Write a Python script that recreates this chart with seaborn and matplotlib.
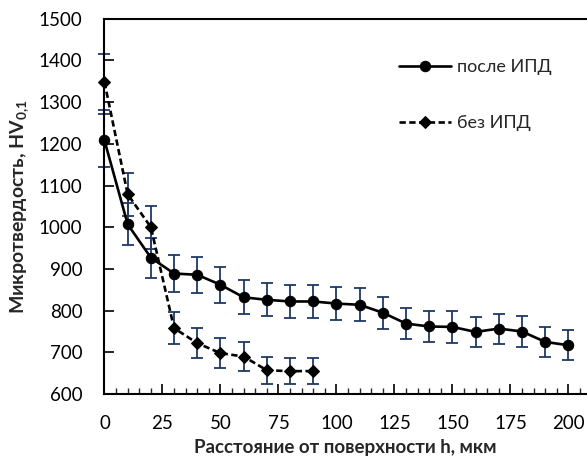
import numpy as np
import matplotlib
matplotlib.use('Agg')
import matplotlib.pyplot as plt
from matplotlib.ticker import MultipleLocator
import seaborn as sns
import pandas as pd

# расстояние от поверхности, мкм
h_after = [0, 10, 20, 30, 40, 50, 60, 70, 80, 90, 100, 110, 120, 130, 140, 150, 160, 170, 180, 190, 200]
hv_after = [1208, 1007, 927, 889, 886, 862, 832, 826, 822, 822, 817, 814, 795, 769, 762, 761, 749, 757, 750, 725, 717]
err_after = [64, 50, 48, 45, 43, 43, 41, 40, 40, 40, 40, 40, 38, 38, 38, 38, 36, 36, 36, 36, 36]

h_before = [0, 10, 20, 30, 40, 50, 60, 70, 80, 90]
hv_before = [1348, 1079, 1000, 758, 722, 698, 690, 657, 655, 655]
err_before = [67, 52, 52, 38, 36, 36, 34, 32, 31, 31]

sns.set_style('white')
plt.rcParams['font.family'] = ['Lato', 'DejaVu Sans']
plt.rcParams['mathtext.fontset'] = 'custom'
plt.rcParams['mathtext.rm'] = 'Lato'
plt.rcParams['mathtext.bf'] = 'Lato:bold'

df_after = pd.DataFrame({'h': h_after, 'hv': hv_after})
df_before = pd.DataFrame({'h': h_before, 'hv': hv_before})

fig, ax = plt.subplots(figsize=(5.87, 4.68), dpi=100)
fig.subplots_adjust(left=0.178, right=1.0, top=0.96, bottom=0.158)

err_color = '#1F3864'
ax.errorbar(h_after, hv_after, yerr=err_after, fmt='none', ecolor=err_color,
            elinewidth=1.3, capsize=4, capthick=1.3, zorder=2, clip_on=False)
ax.errorbar(h_before, hv_before, yerr=err_before, fmt='none', ecolor=err_color,
            elinewidth=1.3, capsize=4, capthick=1.3, zorder=2, clip_on=False)

sns.lineplot(data=df_after, x='h', y='hv', ax=ax, color='black', linewidth=1.9,
             marker='o', markersize=7.5, markeredgecolor='black', label='после ИПД',
             zorder=3, clip_on=False)
sns.lineplot(data=df_before, x='h', y='hv', ax=ax, color='black', linewidth=1.9,
             linestyle=(0, (2.4, 1.3)), marker='D', markersize=6.5, markeredgecolor='black',
             label='без ИПД', zorder=3, clip_on=False)

ax.set_xlim(0, 208)
ax.set_ylim(600, 1500)
ax.xaxis.set_minor_locator(MultipleLocator(5))
ax.yaxis.set_major_locator(MultipleLocator(100))
ax.set_xticks([0, 25, 50, 75, 100, 125, 150, 175, 200])

ax.spines['right'].set_visible(False)
for s in ['left', 'bottom', 'top']:
    ax.spines[s].set_color('black')
    ax.spines[s].set_linewidth(1.5)

ax.tick_params(axis='x', which='both', bottom=True, top=False)
ax.tick_params(axis='y', which='major', left=True, right=False)
ax.tick_params(axis='both', which='major', direction='in', length=7, width=1.2,
               labelsize=13.5, colors='black', pad=16)
ax.tick_params(axis='x', which='minor', direction='in', length=4, width=1.0)
ax.tick_params(axis='x', which='major', pad=15)

ax.set_xlabel('Расстояние от поверхности h, мкм', fontsize=13.5, fontweight='bold', labelpad=5)
ax.set_ylabel('Микротвердость, HV$_{\\mathbf{0{,}1}}$', fontsize=14, fontweight='bold', labelpad=5)

ax.legend(loc='upper right', bbox_to_anchor=(0.96, 0.935), frameon=False, fontsize=13,
          handlelength=2.9, handletextpad=0.3, labelspacing=2.2)

fig.savefig('out.png', dpi=100)
